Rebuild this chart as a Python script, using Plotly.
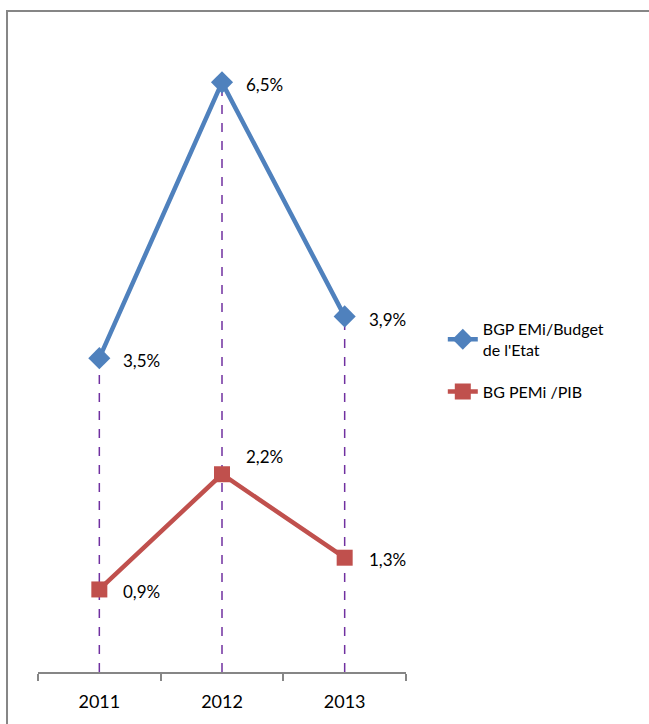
import plotly.graph_objects as go

years = ["2011", "2012", "2013"]
budget_vals = [3.46, 6.5, 3.92]
budget_labels = ["3,5%", "6,5%", "3,9%"]
pib_vals = [0.91, 2.18, 1.26]
pib_labels = ["0,9%", "2,2%", "1,3%"]
series_names = ["BGP EMi/Budget<br>de l'Etat", "BG PEMi /PIB"]

FONT = "Lato"
fig = go.Figure()

# drop lines (from highest point in each category to axis)
for i, yr in enumerate(years):
    top = max(budget_vals[i], pib_vals[i])
    fig.add_trace(go.Scatter(x=[yr, yr], y=[0, top], mode="lines",
                             line=dict(color="#7030A0", width=1.5, dash="dash"),
                             showlegend=False, hoverinfo="skip"))

fig.add_trace(go.Scatter(x=years, y=budget_vals, mode="lines+markers", name=series_names[0],
                         legendgroup="g1",
                         line=dict(color="#4F81BD", width=4.5),
                         marker=dict(symbol="diamond", size=17, color="#4F81BD")))
fig.add_trace(go.Scatter(x=years, y=pib_vals, mode="lines+markers", name=series_names[1],
                         legendgroup="g2",
                         line=dict(color="#C0504D", width=4.5),
                         marker=dict(symbol="square", size=16, color="#C0504D")))

yshifts_b = [-2, -2, -3]
yshifts_p = [-2, 18, -2]
for i, yr in enumerate(years):
    fig.add_annotation(x=i, y=budget_vals[i], text=budget_labels[i], showarrow=False,
                       xanchor="left", xshift=22, yshift=yshifts_b[i],
                       font=dict(family=FONT, size=17, color="#000000"))
    fig.add_annotation(x=i, y=pib_vals[i], text=pib_labels[i], showarrow=False,
                       xanchor="left", xshift=22, yshift=yshifts_p[i],
                       font=dict(family=FONT, size=17, color="#000000"))

# outer border
fig.add_shape(type="rect", xref="paper", yref="paper",
              x0=-0.0842, x1=1.8, y0=-0.2, y1=1.0408,
              line=dict(color="#868686", width=2), fillcolor="rgba(0,0,0,0)", layer="below")

fig.update_layout(
    width=649, height=724,
    margin=dict(l=38, r=243, t=37, b=50),
    paper_bgcolor="white", plot_bgcolor="white",
    font=dict(family=FONT, size=17, color="#000000"),
    legend=dict(x=1.1, y=0.567, xanchor="left", yanchor="top",
                font=dict(family=FONT, size=16, color="#000000"),
                tracegroupgap=18, bgcolor="rgba(0,0,0,0)"),
    xaxis=dict(type="category", range=[-0.5, 2.5], showgrid=False,
               showline=True, linecolor="#868686", linewidth=2,
               ticks="outside", tickson="boundaries", ticklen=7, tickcolor="#868686", tickwidth=2,
               ticklabelstandoff=12,
               tickfont=dict(family=FONT, size=18, color="#000000")),
    yaxis=dict(range=[0, 7], visible=False, showgrid=False, zeroline=False),
)

fig.write_html("out.html", config={"displayModeBar": False},
               post_script="document.body.style.margin='0';")
